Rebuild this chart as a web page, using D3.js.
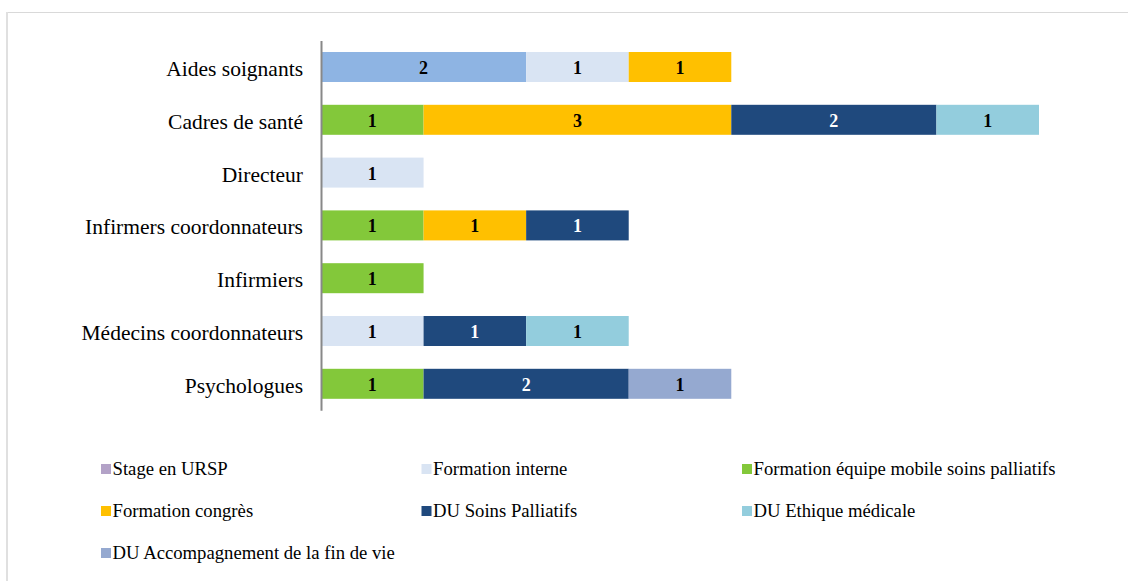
<!DOCTYPE html>
<html><head><meta charset="utf-8">
<script src="https://cdn.jsdelivr.net/npm/d3@7"></script>
<style>body{margin:0;background:#fff;} svg{display:block;}</style>
</head><body>
<script>
const categories = ["Aides soignants","Cadres de santé","Directeur","Infirmers coordonnateurs","Infirmiers","Médecins coordonnateurs","Psychologues"];
const seriesNames = ["Stage en URSP","Formation interne","Formation équipe mobile soins palliatifs","Formation congrès","DU Soins Palliatifs","DU Ethique médicale","DU Accompagnement de la fin de vie"];
const stageURSP      = [2,0,0,0,0,0,0];
const formInterne    = [1,0,1,0,0,1,0];
const formEquipe     = [0,1,0,1,1,0,1];
const formCongres    = [1,3,0,1,0,0,0];
const duSoins        = [0,2,0,1,0,1,2];
const duEthique      = [0,1,0,0,0,1,0];
const duAccomp       = [0,0,0,0,0,0,1];
const seriesValues = [stageURSP, formInterne, formEquipe, formCongres, duSoins, duEthique, duAccomp];
const colors = ["#B3A2C7","#D9E4F3","#83C83A","#FFC000","#1F497D","#93CDDD","#95A9D0"];
const labelColors = ["#000","#000","#000","#000","#fff","#000","#000"];
const pointColorOverride = {"0|Aides soignants": "#8EB4E3"};

const W = 1128, H = 581;
const svg = d3.select("body").append("svg").attr("width", W).attr("height", H);

// frame
svg.append("rect").attr("x", 7).attr("y", 12.5).attr("width", W + 20).attr("height", H + 20)
  .attr("fill", "none").attr("stroke", "#d9d9d9").attr("stroke-width", 1);
svg.append("line").attr("x1", 7).attr("x2", 7).attr("y1", 12).attr("y2", H)
  .attr("stroke", "#e0e0e0").attr("stroke-width", 2);

const x = d3.scaleLinear().domain([0, 7]).range([321, 1039]);
const y = d3.scaleBand().domain(categories).range([40.6, 410.2]).paddingInner(22.8/52.8).paddingOuter(11.4/52.8);

const table = categories.map((c, i) => {
  const o = {cat: c};
  seriesNames.forEach((s, j) => o[s] = seriesValues[j][i]);
  return o;
});
const stack = d3.stack().keys(seriesNames)(table);

const g = svg.append("g");
stack.forEach((layer, si) => {
  layer.forEach(d => {
    const v = d[1] - d[0];
    if (v <= 0) return;
    const cat = d.data.cat;
    const fill = pointColorOverride[si + "|" + cat] || colors[si];
    g.append("rect")
      .attr("x", x(d[0])).attr("y", y(cat))
      .attr("width", x(d[1]) - x(d[0])).attr("height", y.bandwidth())
      .attr("fill", fill);
    g.append("text")
      .attr("x", (x(d[0]) + x(d[1])) / 2).attr("y", y(cat) + y.bandwidth() / 2 + 1)
      .attr("text-anchor", "middle").attr("dominant-baseline", "central")
      .attr("font-family", "'Liberation Serif', 'Times New Roman', serif")
      .attr("font-weight", "bold").attr("font-size", "18px")
      .attr("fill", labelColors[si]).text(v);
  });
});

// axis
const yAxis = d3.axisLeft(y).tickSize(0).tickPadding(18);
const ax = svg.append("g").attr("transform", "translate(321,0)").call(yAxis);
ax.select(".domain").attr("stroke", "#888").attr("stroke-width", 2);
ax.selectAll("text").attr("font-family", "'Liberation Serif', 'Times New Roman', serif")
  .attr("font-size", "21.5px").attr("fill", "#000").attr("dy", "0.42em");

// legend
const legCols = [101, 421.5, 742];
const legRows = [469, 511, 553];
const leg = svg.append("g");
seriesNames.forEach((s, i) => {
  const cx = legCols[i % 3], cy = legRows[Math.floor(i / 3)];
  leg.append("rect").attr("x", cx).attr("y", cy - 5).attr("width", 10).attr("height", 10).attr("fill", colors[i]);
  leg.append("text").attr("x", cx + 11.5).attr("y", cy - 1).attr("dominant-baseline", "central")
    .attr("font-family", "'Liberation Serif', 'Times New Roman', serif")
    .attr("font-size", "18.7px").attr("fill", "#000").text(s);
});
</script>
</body></html>
